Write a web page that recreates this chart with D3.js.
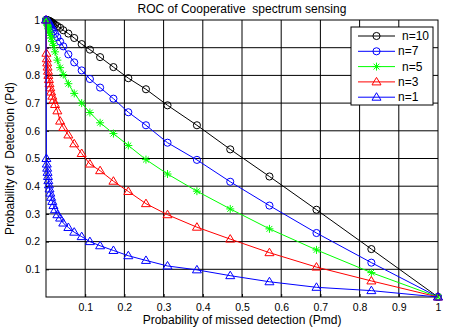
<!DOCTYPE html>
<html>
<head>
<meta charset="utf-8">
<script src="https://cdn.jsdelivr.net/npm/d3@7"></script>
<style>
  body { margin: 0; background: #fff; }
  svg { font-family: "Liberation Sans", Arial, sans-serif; }
</style>
</head>
<body>
<div id="chart"></div>
<script>
// shared x values (probability of missed detection)
const pmd = [0, 0.001, 0.002, 0.003, 0.004, 0.005, 0.006, 0.0075, 0.009, 0.011, 0.013, 0.016,
  0.019, 0.023, 0.029, 0.036, 0.044, 0.057, 0.072, 0.091, 0.112, 0.138, 0.172, 0.21,
  0.255, 0.31, 0.385, 0.47, 0.57, 0.69, 0.83, 1];

const pdN10 = [1, 1, 1, 0.999, 0.999, 0.998, 0.998, 0.997, 0.996, 0.995, 0.993, 0.99,
  0.987, 0.983, 0.978, 0.972, 0.963, 0.951, 0.935, 0.913, 0.893, 0.866, 0.83, 0.79,
  0.75, 0.692, 0.62, 0.533, 0.435, 0.315, 0.173, 0];
const pdN7 = [1, 0.999, 0.997, 0.995, 0.993, 0.99, 0.988, 0.985, 0.982, 0.977, 0.972, 0.966,
  0.959, 0.95, 0.938, 0.922, 0.905, 0.876, 0.847, 0.818, 0.787, 0.756, 0.716, 0.667,
  0.62, 0.557, 0.495, 0.416, 0.33, 0.231, 0.124, 0];
const pdN5 = [1, 0.995, 0.99, 0.985, 0.98, 0.975, 0.968, 0.96, 0.952, 0.944, 0.935, 0.922,
  0.908, 0.885, 0.855, 0.828, 0.803, 0.77, 0.735, 0.7, 0.666, 0.629, 0.59, 0.547,
  0.496, 0.444, 0.382, 0.318, 0.246, 0.17, 0.088, 0];
const pdN3 = [1, 0.88, 0.86, 0.845, 0.83, 0.815, 0.8, 0.785, 0.77, 0.755, 0.74, 0.725,
  0.71, 0.695, 0.672, 0.635, 0.612, 0.585, 0.553, 0.518, 0.48, 0.456, 0.418, 0.381,
  0.337, 0.297, 0.252, 0.209, 0.16, 0.108, 0.058, 0];
const pdN1 = [1, 0.5, 0.48, 0.465, 0.45, 0.435, 0.42, 0.405, 0.39, 0.375, 0.36, 0.345,
  0.33, 0.315, 0.297, 0.285, 0.267, 0.251, 0.234, 0.218, 0.2, 0.185, 0.168, 0.149,
  0.132, 0.112, 0.098, 0.077, 0.055, 0.035, 0.023, 0];

const labels = ["n=10", "n=7", "n=5", "n=3", "n=1"];
const tickVals = [0.1, 0.2, 0.3, 0.4, 0.5, 0.6, 0.7, 0.8, 0.9, 1];

const series = [
  { name: labels[0], pd: pdN10, color: "#000000", marker: "circle" },
  { name: labels[1], pd: pdN7, color: "#0000ff", marker: "circle" },
  { name: labels[2], pd: pdN5, color: "#00ff00", marker: "star" },
  { name: labels[3], pd: pdN3, color: "#ff0000", marker: "triangle" },
  { name: labels[4], pd: pdN1, color: "#0000ff", marker: "triangle" }
];

const width = 450, height = 330;
const margin = { top: 20, right: 12, bottom: 33, left: 46 };
const iw = width - margin.left - margin.right;
const ih = height - margin.top - margin.bottom;

const svg = d3.select("#chart").append("svg")
  .attr("width", width)
  .attr("height", height);

const g = svg.append("g")
  .attr("transform", `translate(${margin.left},${margin.top})`);

const x = d3.scaleLinear().domain([0, 1]).range([0, iw]);
const y = d3.scaleLinear().domain([0, 1]).range([ih, 0]);

// grid
g.append("g").selectAll("line")
  .data(tickVals.slice(0, -1))
  .enter().append("line")
  .attr("x1", d => x(d)).attr("x2", d => x(d))
  .attr("y1", 0).attr("y2", ih)
  .attr("stroke", "#000").attr("stroke-width", 1);
g.append("g").selectAll("line")
  .data(tickVals.slice(0, -1))
  .enter().append("line")
  .attr("y1", d => y(d)).attr("y2", d => y(d))
  .attr("x1", 0).attr("x2", iw)
  .attr("stroke", "#000").attr("stroke-width", 1);

// box
g.append("rect")
  .attr("width", iw).attr("height", ih)
  .attr("fill", "none").attr("stroke", "#000");

// axes
const xAxis = g.append("g")
  .attr("transform", `translate(0,${ih})`)
  .call(d3.axisBottom(x).tickValues(tickVals).tickSize(-3).tickPadding(7).tickFormat(d3.format("~g")));
const yAxis = g.append("g")
  .call(d3.axisLeft(y).tickValues(tickVals).tickSize(-3).tickPadding(6).tickFormat(d3.format("~g")));
[xAxis, yAxis].forEach(a => {
  a.select(".domain").remove();
  a.selectAll("text").attr("font-size", 10.5).attr("fill", "#000")
    .attr("font-family", "Liberation Sans, Arial, sans-serif");
});

// marker paths
function markerPath(type) {
  if (type === "circle") return d3.symbol().type(d3.symbolCircle).size(40)();
  if (type === "triangle") return "M0,-4.5L4.5,3L-4.5,3Z";
  const s = 4, d = 2.9;
  return `M${-s},0H${s}M0,${-s}V${s}M${-d},${-d}L${d},${d}M${-d},${d}L${d},${-d}`;
}

const line = d3.line()
  .x(d => x(d[0]))
  .y(d => y(d[1]));

series.forEach(s => {
  const pts = pmd.map((v, i) => [v, s.pd[i]]);
  const sg = g.append("g");
  sg.append("path")
    .datum(pts)
    .attr("fill", "none")
    .attr("stroke", s.color)
    .attr("stroke-width", 1)
    .attr("d", line);
  sg.selectAll("path.m")
    .data(pts)
    .enter().append("path")
    .attr("class", "m")
    .attr("d", markerPath(s.marker))
    .attr("transform", d => `translate(${x(d[0])},${y(d[1])})`)
    .attr("fill", "none")
    .attr("stroke", s.color)
    .attr("stroke-width", 1);
});

// legend
const lg = svg.append("g").attr("transform", "translate(351,27)");
lg.append("rect")
  .attr("width", 82).attr("height", 78)
  .attr("fill", "#fff").attr("stroke", "#000");
series.forEach((s, i) => {
  const yy = 9 + i * 15.3;
  lg.append("line")
    .attr("x1", 7).attr("x2", 44)
    .attr("y1", yy).attr("y2", yy)
    .attr("stroke", s.color);
  lg.append("path")
    .attr("d", markerPath(s.marker))
    .attr("transform", `translate(25.5,${yy})`)
    .attr("fill", "none").attr("stroke", s.color);
  lg.append("text")
    .attr("x", i === 0 || i === 2 ? 51 : 47)
    .attr("y", yy + 4)
    .attr("font-size", 12)
    .text(s.name);
});

// title and labels
svg.append("text")
  .attr("x", margin.left + iw / 2).attr("y", 13)
  .attr("text-anchor", "middle").attr("font-size", 12)
  .style("white-space", "pre")
  .text("ROC of Cooperative  spectrum sensing");

svg.append("text")
  .attr("x", margin.left + iw / 2).attr("y", 324)
  .attr("text-anchor", "middle").attr("font-size", 12)
  .text("Probability of missed detection (Pmd)");

svg.append("text")
  .attr("transform", `translate(14,${margin.top + ih / 2}) rotate(-90)`)
  .attr("text-anchor", "middle").attr("font-size", 12)
  .style("white-space", "pre")
  .text("Probability of  Detection (Pd)");
</script>
</body>
</html>
